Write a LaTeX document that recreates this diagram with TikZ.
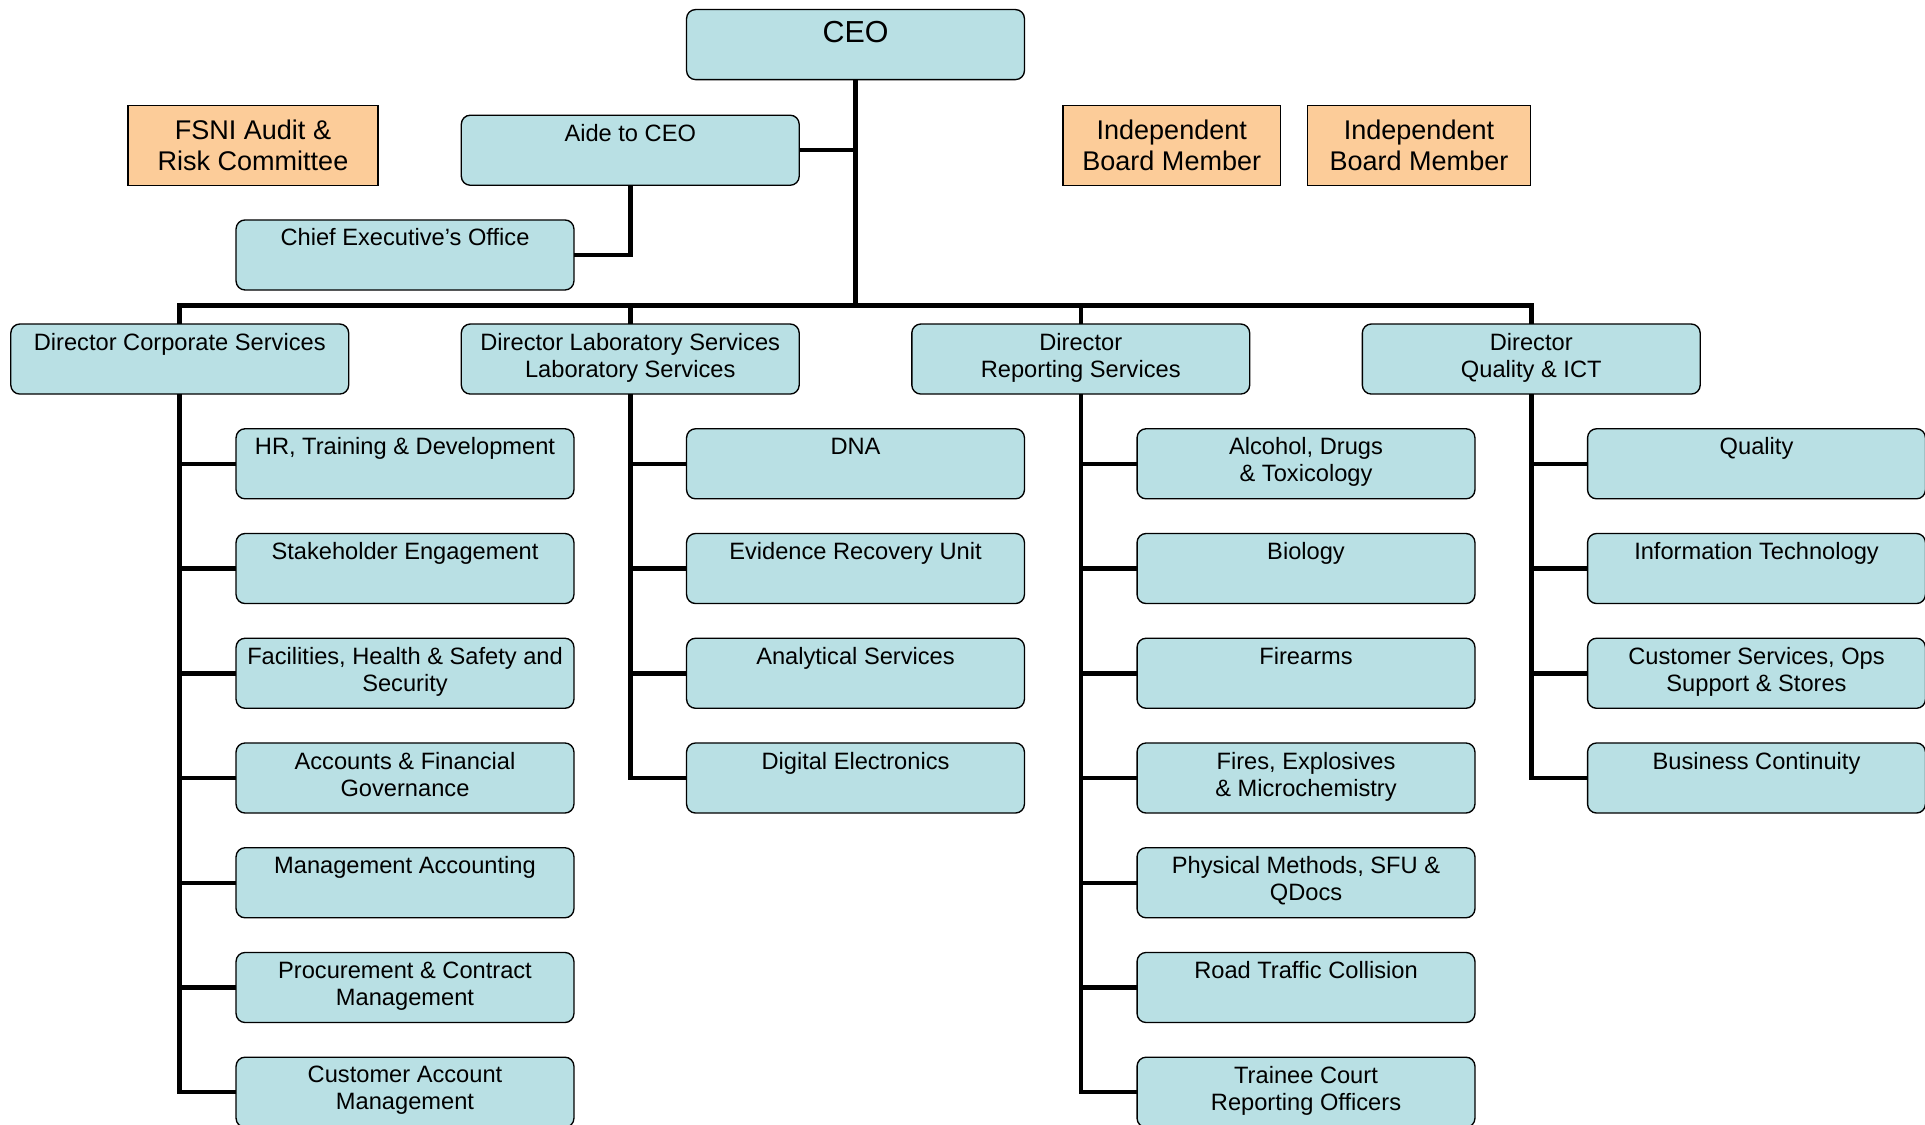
\documentclass[tikz,border=0pt]{standalone}
\usepackage{fontspec}
\setmainfont{Liberation Sans}
\usetikzlibrary{positioning,calc}
\definecolor{unitblue}{RGB}{185,224,228}
\definecolor{boardorange}{RGB}{252,204,153}

\begin{document}
\begin{tikzpicture}[
  node distance=15.4pt and 50pt,
  unit/.style={draw, rounded corners=4pt, line width=0.6pt, fill=unitblue, align=center, minimum width=150pt, minimum height=31.1pt, inner sep=1pt, outer sep=0pt, font=\fontsize{10.5}{12}\selectfont, execute at end node=\strut},
  headbox/.style={unit, font=\fontsize{13.5}{15}\selectfont, text height=9.7pt, text depth=11.5pt},
  board/.style={draw, line width=0.6pt, fill=boardorange, align=center, minimum height=35.4pt, inner sep=1pt, outer sep=0pt, font=\fontsize{12}{13.6}\selectfont},
  link/.style={line width=2pt}
]
\useasboundingbox (0,0) rectangle (854.6pt,-499.2pt);

% directors
\node[unit] (corp) at (79.8pt,-159.4pt) {Director Corporate Services\\};
\node[unit, right=of corp] (lab) {Director Laboratory Services\\Laboratory Services};
\node[unit, right=of lab] (rep) {Director\\Reporting Services};
\node[unit, right=of rep] (qual) {Director\\Quality \& ICT};

% top
\node[headbox, above=108.5pt of $(lab.north)!0.5!(rep.north)$] (ceo) {CEO};
\node[unit, above=61.6pt of lab] (aide) {Aide to CEO\\};
\node[unit, below=of aide, xshift=-100pt] (office) {Chief Executive’s Office\\};
\node[board, minimum width=111pt] (audit) at (112.3pt,-64.6pt) {FSNI Audit \&\\Risk Committee};
\node[board, minimum width=96.5pt] (ibm1) at (520.2pt,-64.6pt) {Independent\\Board Member};
\node[board, minimum width=99pt, right=12pt of ibm1] (ibm2) {Independent\\Board Member};

% corporate services
\node[unit, below=of corp, xshift=100pt] (corp1) {HR, Training \& Development\\};
\node[unit, below=of corp1] (corp2) {Stakeholder Engagement\\};
\node[unit, below=of corp2] (corp3) {Facilities, Health \& Safety and\\Security};
\node[unit, below=of corp3] (corp4) {Accounts \& Financial\\Governance};
\node[unit, below=of corp4] (corp5) {Management Accounting\\};
\node[unit, below=of corp5] (corp6) {Procurement \& Contract\\Management};
\node[unit, below=of corp6] (corp7) {Customer Account\\Management};

% laboratory services
\node[unit, below=of lab, xshift=100pt] (lab1) {DNA\\};
\node[unit, below=of lab1] (lab2) {Evidence Recovery Unit\\};
\node[unit, below=of lab2] (lab3) {Analytical Services\\};
\node[unit, below=of lab3] (lab4) {Digital Electronics\\};

% reporting services
\node[unit, below=of rep, xshift=100pt] (rep1) {Alcohol, Drugs\\\& Toxicology};
\node[unit, below=of rep1] (rep2) {Biology\\};
\node[unit, below=of rep2] (rep3) {Firearms\\};
\node[unit, below=of rep3] (rep4) {Fires, Explosives\\\& Microchemistry};
\node[unit, below=of rep4] (rep5) {Physical Methods, SFU \&\\QDocs};
\node[unit, below=of rep5] (rep6) {Road Traffic Collision\\};
\node[unit, below=of rep6] (rep7) {Trainee Court\\Reporting Officers};

% quality & ICT
\node[unit, below=of qual, xshift=100pt] (qual1) {Quality\\};
\node[unit, below=of qual1] (qual2) {Information Technology\\};
\node[unit, below=of qual2] (qual3) {Customer Services, Ops\\Support \& Stores};
\node[unit, below=of qual3] (qual4) {Business Continuity\\};

% connectors
\coordinate (bus) at ($(corp.north)+(0,8.2pt)$);
\draw[link] (ceo.south) -- (ceo.south |- bus);
\draw[link] (aide.east) -- (aide.east -| ceo.south);
\draw[link] (aide.south) |- (office.east);
\draw[link] (corp.north) -- (bus) -- (bus -| qual.north) -- (qual.north);
\draw[link] (lab.north) -- (lab.north |- bus);
\draw[link] (rep.north) -- (rep.north |- bus);

\draw[link] (corp.south) |- (corp1.west);
\draw[link] (corp.south) |- (corp2.west);
\draw[link] (corp.south) |- (corp3.west);
\draw[link] (corp.south) |- (corp4.west);
\draw[link] (corp.south) |- (corp5.west);
\draw[link] (corp.south) |- (corp6.west);
\draw[link] (corp.south) |- (corp7.west);
\draw[link] (lab.south) |- (lab1.west);
\draw[link] (lab.south) |- (lab2.west);
\draw[link] (lab.south) |- (lab3.west);
\draw[link] (lab.south) |- (lab4.west);
\draw[link] (rep.south) |- (rep1.west);
\draw[link] (rep.south) |- (rep2.west);
\draw[link] (rep.south) |- (rep3.west);
\draw[link] (rep.south) |- (rep4.west);
\draw[link] (rep.south) |- (rep5.west);
\draw[link] (rep.south) |- (rep6.west);
\draw[link] (rep.south) |- (rep7.west);
\draw[link] (qual.south) |- (qual1.west);
\draw[link] (qual.south) |- (qual2.west);
\draw[link] (qual.south) |- (qual3.west);
\draw[link] (qual.south) |- (qual4.west);
\end{tikzpicture}
\end{document}
